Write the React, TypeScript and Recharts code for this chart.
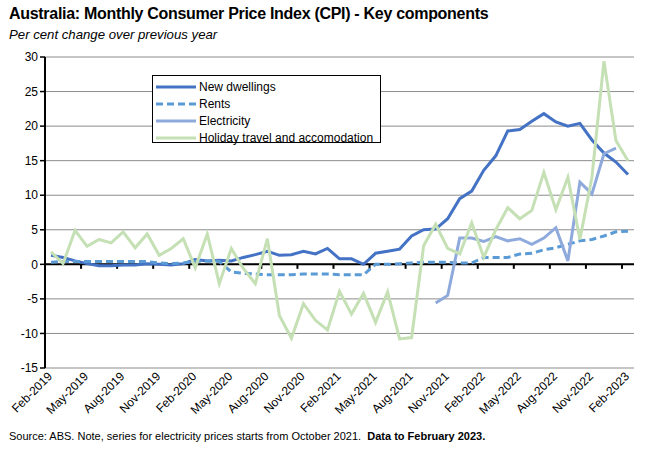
import React from "react";
import {
  CartesianGrid,
  Legend,
  Line,
  LineChart,
  ReferenceLine,
  XAxis,
  YAxis,
} from "recharts";

// Monthly, Feb-2019 to Feb-2023
const months = [
  "Feb-2019", "Mar-2019", "Apr-2019", "May-2019", "Jun-2019", "Jul-2019", "Aug-2019",
  "Sep-2019", "Oct-2019", "Nov-2019", "Dec-2019", "Jan-2020", "Feb-2020", "Mar-2020",
  "Apr-2020", "May-2020", "Jun-2020", "Jul-2020", "Aug-2020", "Sep-2020", "Oct-2020",
  "Nov-2020", "Dec-2020", "Jan-2021", "Feb-2021", "Mar-2021", "Apr-2021", "May-2021",
  "Jun-2021", "Jul-2021", "Aug-2021", "Sep-2021", "Oct-2021", "Nov-2021", "Dec-2021",
  "Jan-2022", "Feb-2022", "Mar-2022", "Apr-2022", "May-2022", "Jun-2022", "Jul-2022",
  "Aug-2022", "Sep-2022", "Oct-2022", "Nov-2022", "Dec-2022", "Jan-2023", "Feb-2023",
];

const newDwellings = [
  1.3, 1.0, 0.5, 0.1, -0.2, -0.2, -0.1, -0.1, 0.1, 0.0, -0.1, 0.1, 0.7, 0.5, 0.6, 0.5,
  1.0, 1.4, 1.9, 1.3, 1.4, 1.9, 1.5, 2.3, 0.8, 0.8, 0.0, 1.6, 1.9, 2.2, 4.1, 5.0, 5.1,
  6.6, 9.5, 10.6, 13.6, 15.7, 19.3, 19.5, 20.7, 21.8, 20.6, 20.0, 20.4, 18.0, 16.1, 14.8,
  13.0,
];

const rents = [
  0.3, 0.4, 0.4, 0.4, 0.4, 0.4, 0.4, 0.4, 0.4, 0.2, 0.1, 0.2, 0.4, 0.5, 0.4, -1.1, -1.3,
  -1.4, -1.5, -1.5, -1.5, -1.4, -1.4, -1.4, -1.5, -1.5, -1.5, 0.0, 0.0, 0.1, 0.2, 0.3,
  0.3, 0.3, 0.2, 0.2, 1.0, 1.0, 1.0, 1.5, 1.6, 2.1, 2.4, 2.9, 3.4, 3.6, 4.1, 4.7, 4.8,
];

// electricity series starts Oct-2021, last value Jan-2023
const electricityStart = "Oct-2021";
const electricity = [
  -5.6, -4.5, 3.8, 3.8, 3.3, 4.0, 3.4, 3.7, 2.9, 3.8, 5.3, 0.5, 11.9, 10.2, 16.0, 16.8,
];

const holiday = [
  1.8, 0.1, 4.9, 2.6, 3.6, 3.1, 4.7, 2.4, 4.4, 1.3, 2.3, 3.7, -0.5, 4.4, -2.8, 2.3, -0.6,
  -2.8, 3.7, -7.4, -10.7, -5.7, -8.1, -9.5, -3.9, -7.2, -4.2, -8.4, -4.0, -10.8, -10.6,
  2.7, 5.8, 2.3, 1.5, 6.0, 1.0, 5.0, 8.2, 6.6, 7.8, 13.3, 7.9, 12.6, 3.6, 12.6, 29.4,
  17.9, 15.0,
];

const yTicks = [-15, -10, -5, 0, 5, 10, 15, 20, 25, 30];
const xLabelStep = 3;

const series = [
  { key: "newDwellings", name: "New dwellings", color: "#4472C4", dash: undefined },
  { key: "rents", name: "Rents", color: "#5B9BD5", dash: "7 4" },
  { key: "electricity", name: "Electricity", color: "#8EA9DB", dash: undefined },
  { key: "holiday", name: "Holiday travel and accomodation", color: "#C5E0B4", dash: undefined },
];

const elecOffset = months.indexOf(electricityStart);

const data = months.map((month, i) => ({
  idx: i,
  month,
  newDwellings: newDwellings[i],
  rents: rents[i],
  electricity: i >= elecOffset ? electricity[i - elecOffset] ?? null : null,
  holiday: holiday[i],
}));

const xTicks = months.map((_, i) => i).filter((i) => i % xLabelStep === 0);
// small tick marks sit between categories on the zero line
const zeroTicks = xTicks.slice(1).map((i) => i - 0.5);

const font = "'Liberation Sans', Arial, sans-serif";

function MonthTick({ x, y, payload }: any) {
  return (
    <g transform={`translate(${x + 2},${y + 1})`}>
      <text transform="rotate(-45)" textAnchor="end" fontSize={12} fill="#000" fontFamily={font}>
        {months[payload.value]}
      </text>
    </g>
  );
}

function LegendBox() {
  return (
    <div
      style={{
        border: "1px solid #000",
        background: "#fff",
        width: 229,
        height: 68,
        boxSizing: "border-box",
        padding: "2px 0 0 3px",
        fontFamily: font,
        fontSize: 12,
        textAlign: "left",
      }}
    >
      {series.map((s) => (
        <div key={s.key} style={{ display: "flex", alignItems: "center", height: 17 }}>
          <svg width={40} height={6} style={{ marginRight: 3 }}>
            <line x1={0} y1={3} x2={40} y2={3} stroke={s.color} strokeWidth={3} strokeDasharray={s.dash} />
          </svg>
          <span>{s.name}</span>
        </div>
      ))}
    </div>
  );
}

export default function App() {
  return (
    <div style={{ position: "absolute", left: 0, top: 0, width: 648, height: 455, background: "#fff", fontFamily: font }}>
      <LineChart width={648} height={455} data={data} margin={{ top: 57, right: 14, bottom: 27, left: 0 }}>
        <CartesianGrid vertical={false} stroke="#8c8c8c" strokeWidth={1} />
        <XAxis
          dataKey="idx"
          type="number"
          domain={[-0.5, 48.5]}
          ticks={xTicks}
          interval={0}
          axisLine={false}
          tickLine={false}
          tickSize={4}
          tickMargin={4}
          height={60}
          tick={<MonthTick />}
        />
        <YAxis
          domain={[-15, 30]}
          ticks={yTicks}
          width={45}
          axisLine={{ stroke: "#000", strokeWidth: 2 }}
          tickLine={{ stroke: "#000", strokeWidth: 1.5 }}
          tickSize={5}
          tick={{ fill: "#000", fontSize: 12, fontFamily: font }}
        />
        <ReferenceLine y={0} stroke="#000" strokeWidth={2} />
        {zeroTicks.map((t) => (
          <ReferenceLine
            key={t}
            segment={[{ x: t, y: 0 }, { x: t, y: -0.65 }]}
            stroke="#000"
            strokeWidth={2}
          />
        ))}
        <Legend
          layout="vertical"
          align="center"
          verticalAlign="middle"
          content={<LegendBox />}
          wrapperStyle={{ left: 152, top: 75, width: 229 }}
        />
        {series.map((s) => (
          <Line
            key={s.key}
            dataKey={s.key}
            name={s.name}
            stroke={s.color}
            strokeWidth={3}
            strokeDasharray={s.dash}
            dot={false}
            connectNulls={false}
            isAnimationActive={false}
          />
        ))}
      </LineChart>
      <div style={{ position: "absolute", left: 9, top: 5, fontSize: 16, fontWeight: "bold", letterSpacing: -0.3, whiteSpace: "nowrap" }}>
        Australia: Monthly Consumer Price Index (CPI) - Key components
      </div>
      <div style={{ position: "absolute", left: 9, top: 27, fontSize: 13.2, fontStyle: "italic", whiteSpace: "nowrap" }}>
        Per cent change over previous year
      </div>
      <div style={{ position: "absolute", left: 9, top: 430, fontSize: 11, whiteSpace: "nowrap" }}>
        Source: ABS. Note, series for electricity prices starts from October 2021.{"\u00a0\u00a0"}
        <b>Data to February 2023.</b>
      </div>
    </div>
  );
}
